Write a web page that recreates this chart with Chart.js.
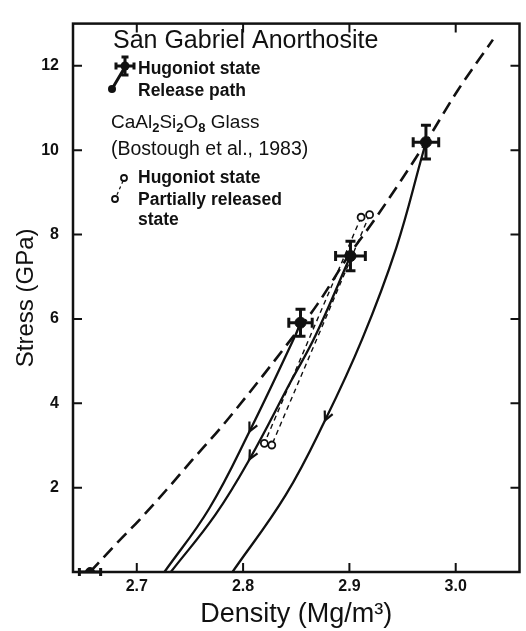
<!DOCTYPE html>
<html>
<head>
<meta charset="utf-8">
<script src="https://cdn.jsdelivr.net/npm/chart.js@4.4.1/dist/chart.umd.min.js"></script>
<style>
html, body { margin: 0; padding: 0; background: #fff; }
#wrap { width: 526px; height: 631px; }
</style>
</head>
<body>
<div id="wrap"><canvas id="chart" width="526" height="631"></canvas></div>
<script>
// Hugoniot curve (dashed)
const curveDensity = [2.656, 2.680, 2.703, 2.728, 2.752, 2.779, 2.810, 2.840, 2.870, 2.899, 2.925, 2.972, 3.002, 3.035];
const curveStress  = [0, 0.65, 1.25, 1.95, 2.65, 3.42, 4.38, 5.35, 6.35, 7.49, 8.4, 10.19, 11.42, 12.62];

// San Gabriel anorthosite Hugoniot states with error bars
const hugDensity    = [2.854, 2.901, 2.972];
const hugStress     = [5.91, 7.49, 10.19];
const hugDensityErr = [0.011, 0.014, 0.012];
const hugStressErr  = [0.32, 0.35, 0.4];

// zero-pressure start point
const startDensity    = [2.656];
const startStress     = [0];
const startDensityErr = [0.010];

// release paths (one per Hugoniot state)
const release1Density = [2.854, 2.849, 2.806, 2.768, 2.726];
const release1Stress  = [5.91, 5.60, 3.33, 1.50, 0];
const release2Density = [2.901, 2.868, 2.845, 2.806, 2.774, 2.732];
const release2Stress  = [7.49, 5.60, 4.52, 2.67, 1.36, 0];
const release3Density = [2.972, 2.969, 2.944, 2.912, 2.877, 2.840, 2.790];
const release3Stress  = [10.19, 9.92, 7.68, 5.52, 3.59, 1.82, 0];
const arrowIndex = [2, 3, 4];

// CaAl2Si2O8 glass (Boslough et al., 1983)
const glassHugDensity = [2.911, 2.919];
const glassHugStress  = [8.41, 8.47];
const glassRelDensity = [2.820, 2.827];
const glassRelStress  = [3.05, 3.01];

const xTicks = [2.7, 2.8, 2.9, 3.0];
const xTickLabels = ['2.7', '2.8', '2.9', '3.0'];
const yTicks = [2, 4, 6, 8, 10, 12];

const FONT = "'Liberation Sans', Arial, sans-serif";
const INK = '#111';

const pts = (xs, ys) => xs.map((x, i) => ({ x: x, y: ys[i] }));

const releaseSets = [
    [release1Density, release1Stress],
    [release2Density, release2Stress],
    [release3Density, release3Stress]
];

const datasets = [];

datasets.push({
    label: 'Hugoniot',
    data: pts(curveDensity, curveStress),
    borderColor: INK,
    borderWidth: 2.6,
    borderDash: [13, 7],
    pointRadius: 0,
    cubicInterpolationMode: 'monotone',
    showLine: true
});

releaseSets.forEach((r, i) => {
    datasets.push({
        label: 'Release ' + (i + 1),
        data: pts(r[0], r[1]),
        borderColor: INK,
        borderWidth: 2.3,
        pointRadius: 0,
        tension: 0.4,
        showLine: true
    });
});

glassHugDensity.forEach((d, i) => {
    datasets.push({
        label: 'Glass ' + (i + 1),
        data: [{ x: d, y: glassHugStress[i] }, { x: glassRelDensity[i], y: glassRelStress[i] }],
        borderColor: INK,
        borderWidth: 1.4,
        borderDash: [5, 4],
        pointRadius: 3.5,
        pointBackgroundColor: '#fff',
        pointBorderColor: INK,
        pointBorderWidth: 1.8,
        showLine: true
    });
});

datasets.push({
    label: 'Hugoniot states',
    data: pts(hugDensity, hugStress),
    showLine: false,
    pointRadius: 5.5,
    pointBackgroundColor: INK,
    pointBorderColor: INK
});

datasets.push({
    label: 'Start',
    data: pts(startDensity, startStress),
    showLine: false,
    pointRadius: 4.5,
    pointBackgroundColor: INK,
    pointBorderColor: INK
});

function hbar(ctx, x0, x1, y, cap) {
    ctx.moveTo(x0, y); ctx.lineTo(x1, y);
    ctx.moveTo(x0, y - cap); ctx.lineTo(x0, y + cap);
    ctx.moveTo(x1, y - cap); ctx.lineTo(x1, y + cap);
}

function vbar(ctx, x, y0, y1, cap) {
    ctx.moveTo(x, y0); ctx.lineTo(x, y1);
    ctx.moveTo(x - cap, y0); ctx.lineTo(x + cap, y0);
    ctx.moveTo(x - cap, y1); ctx.lineTo(x + cap, y1);
}

function chevron(ctx, tipX, tipY, ang) {
    const len = 10, spread = 0.45;
    ctx.beginPath();
    ctx.moveTo(tipX - len * Math.cos(ang - spread), tipY - len * Math.sin(ang - spread));
    ctx.lineTo(tipX, tipY);
    ctx.lineTo(tipX - len * Math.cos(ang + spread), tipY - len * Math.sin(ang + spread));
    ctx.stroke();
}

function label(ctx, text, x, y, size, weight) {
    ctx.font = weight + ' ' + size + 'px ' + FONT;
    ctx.fillText(text, x, y);
    return ctx.measureText(text).width;
}

const decorations = {
    id: 'decorations',
    afterDatasetsDraw(chart) {
        const ctx = chart.ctx;
        const xs = chart.scales.x, ys = chart.scales.y;
        const a = chart.chartArea;
        ctx.save();
        ctx.strokeStyle = INK;
        ctx.fillStyle = INK;
        ctx.lineCap = 'butt';

        // error bars on Hugoniot states
        ctx.lineWidth = 3;
        ctx.beginPath();
        hugDensity.forEach((d, i) => {
            const cx = xs.getPixelForValue(d), cy = ys.getPixelForValue(hugStress[i]);
            hbar(ctx, xs.getPixelForValue(d - hugDensityErr[i]), xs.getPixelForValue(d + hugDensityErr[i]), cy, 5);
            vbar(ctx, cx, ys.getPixelForValue(hugStress[i] + hugStressErr[i]), ys.getPixelForValue(hugStress[i] - hugStressErr[i]), 5);
        });
        startDensity.forEach((d, i) => {
            const cy = ys.getPixelForValue(startStress[i]);
            hbar(ctx, xs.getPixelForValue(d - startDensityErr[i]), xs.getPixelForValue(d + startDensityErr[i]), cy, 4);
        });
        ctx.stroke();

        // arrow heads on release paths
        ctx.lineWidth = 2.2;
        releaseSets.forEach((r, i) => {
            const k = arrowIndex[i];
            const px = xs.getPixelForValue(r[0][k]), py = ys.getPixelForValue(r[1][k]);
            const qx = xs.getPixelForValue(r[0][k - 1]), qy = ys.getPixelForValue(r[1][k - 1]);
            chevron(ctx, px, py, Math.atan2(py - qy, px - qx));
        });

        // frame and inward ticks
        ctx.lineWidth = 2.5;
        ctx.strokeRect(a.left, a.top, a.right - a.left, a.bottom - a.top);
        ctx.lineWidth = 2;
        ctx.beginPath();
        xTicks.forEach(v => {
            const x = xs.getPixelForValue(v);
            ctx.moveTo(x, a.bottom); ctx.lineTo(x, a.bottom - 9);
            ctx.moveTo(x, a.top); ctx.lineTo(x, a.top + 9);
        });
        yTicks.forEach(v => {
            const y = ys.getPixelForValue(v);
            ctx.moveTo(a.left, y); ctx.lineTo(a.left + 9, y);
            ctx.moveTo(a.right, y); ctx.lineTo(a.right - 9, y);
        });
        ctx.stroke();

        // legend
        ctx.textBaseline = 'alphabetic';
        ctx.textAlign = 'left';
        label(ctx, 'San Gabriel Anorthosite', 113, 48, 25, 'normal');

        ctx.lineWidth = 3;
        ctx.beginPath();
        ctx.moveTo(125, 67); ctx.lineTo(112, 89);
        hbar(ctx, 116, 134, 66, 3.5);
        vbar(ctx, 125, 57, 75, 3.5);
        ctx.stroke();
        ctx.beginPath(); ctx.arc(125, 66, 4.5, 0, Math.PI * 2); ctx.fill();
        ctx.beginPath(); ctx.arc(112, 89, 4, 0, Math.PI * 2); ctx.fill();
        label(ctx, 'Hugoniot state', 138, 74, 17.5, 'bold');
        label(ctx, 'Release path', 138, 96, 17.5, 'bold');

        let x = 111;
        const sub = [['CaAl', 0], ['2', 1], ['Si', 0], ['2', 1], ['O', 0], ['8', 1], [' Glass', 0]];
        sub.forEach(s => {
            x += s[1] ? label(ctx, s[0], x, 132, 13, 'bold') : label(ctx, s[0], x, 128, 19, 'normal');
        });
        label(ctx, '(Bostough et al., 1983)', 111, 155, 19.5, 'normal');

        ctx.lineWidth = 1.2;
        ctx.setLineDash([3, 3]);
        ctx.beginPath(); ctx.moveTo(123, 181); ctx.lineTo(116, 197); ctx.stroke();
        ctx.setLineDash([]);
        ctx.lineWidth = 1.8;
        ctx.fillStyle = '#fff';
        [[124, 178], [115, 199]].forEach(c => {
            ctx.beginPath(); ctx.arc(c[0], c[1], 3, 0, Math.PI * 2); ctx.fill(); ctx.stroke();
        });
        ctx.fillStyle = INK;
        label(ctx, 'Hugoniot state', 138, 183, 17.5, 'bold');
        label(ctx, 'Partially released', 138, 205, 17.5, 'bold');
        label(ctx, 'state', 138, 225, 17.5, 'bold');

        ctx.restore();
    }
};

new Chart(document.getElementById('chart'), {
    type: 'scatter',
    data: { datasets: datasets },
    options: {
        responsive: false,
        animation: false,
        layout: { padding: { top: 10, right: 4, left: 0, bottom: 0 } },
        plugins: { legend: { display: false }, tooltip: { enabled: false } },
        scales: {
            x: {
                type: 'linear',
                min: 2.64,
                max: 3.06,
                afterBuildTicks: s => { s.ticks = xTicks.map(v => ({ value: v })); },
                afterFit: s => { s.height = 59; },
                grid: { display: false, drawTicks: false },
                border: { display: false },
                ticks: {
                    padding: 5,
                    color: INK,
                    font: { family: FONT, size: 16, weight: 'bold' },
                    callback: (v) => xTickLabels[xTicks.indexOf(v)]
                },
                title: {
                    display: true,
                    text: 'Density (Mg/m\u00B3)',
                    color: INK,
                    font: { family: FONT, size: 27 },
                    padding: { top: 0, bottom: 0 }
                }
            },
            y: {
                type: 'linear',
                min: 0,
                max: 13,
                afterBuildTicks: s => { s.ticks = yTicks.map(v => ({ value: v })); },
                afterFit: s => { s.width = 73; },
                grid: { display: false, drawTicks: false },
                border: { display: false },
                ticks: {
                    padding: 14,
                    color: INK,
                    font: { family: FONT, size: 16, weight: 'bold' }
                },
                title: {
                    display: true,
                    text: 'Stress (GPa)',
                    color: INK,
                    font: { family: FONT, size: 24 },
                    padding: { top: 12, bottom: 0 }
                }
            }
        }
    },
    plugins: [decorations]
});
</script>
</body>
</html>
